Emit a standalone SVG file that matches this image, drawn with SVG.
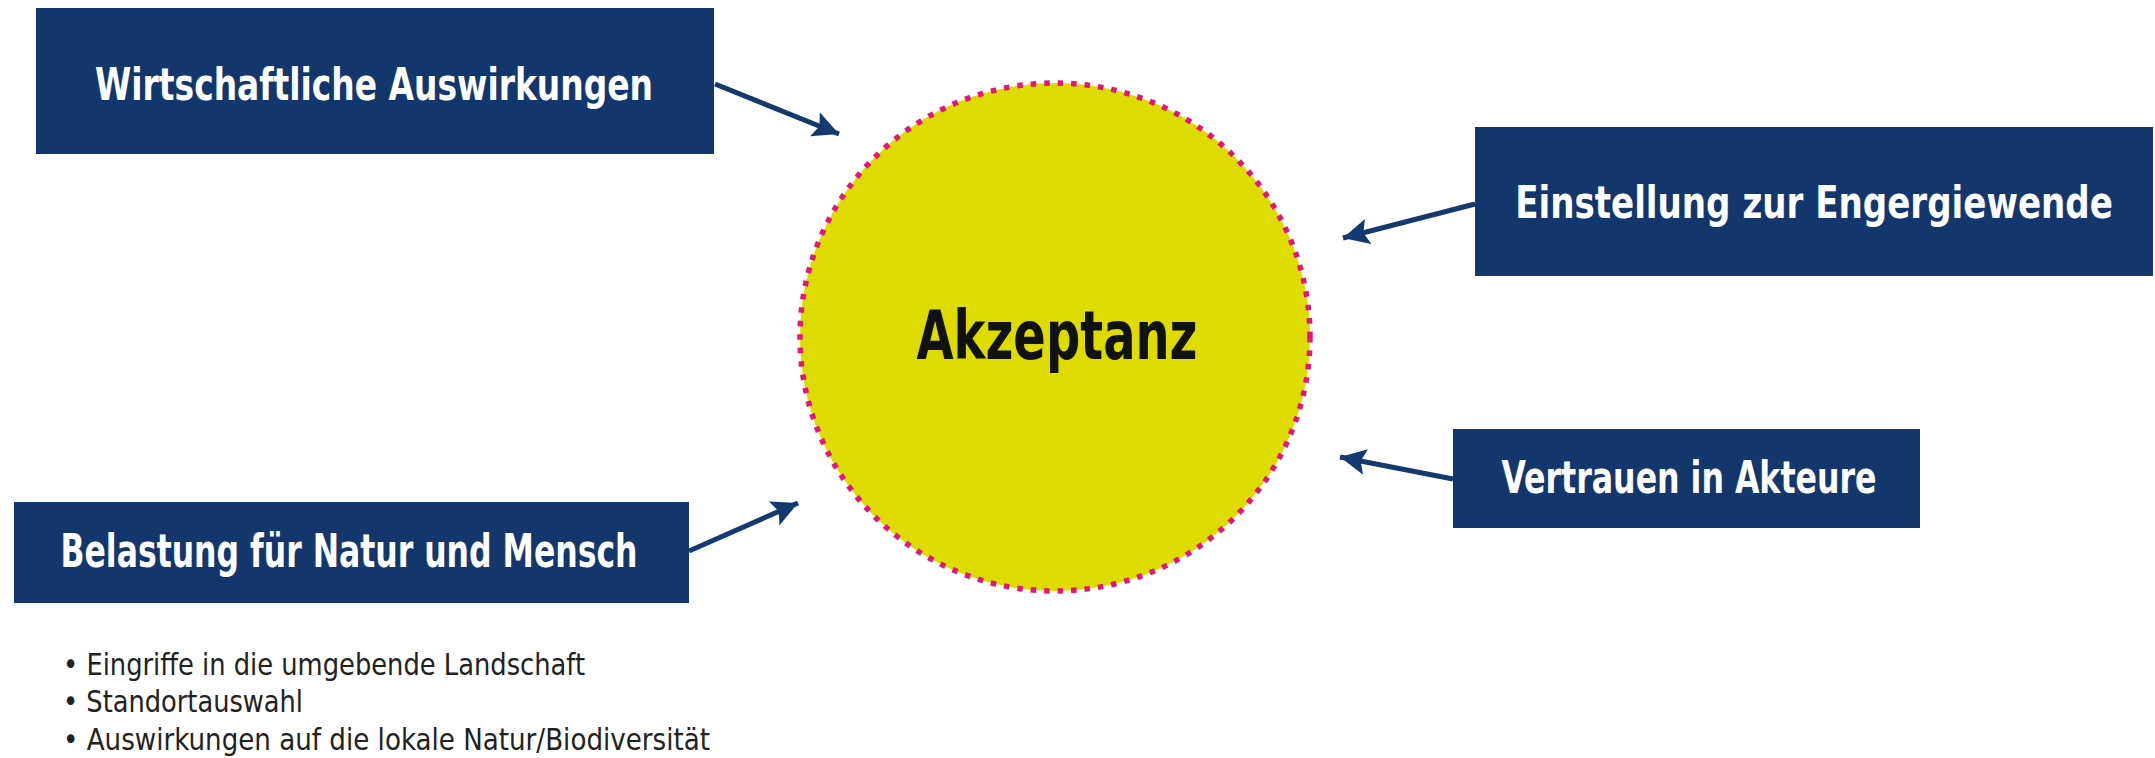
<svg xmlns="http://www.w3.org/2000/svg" width="2155" height="758" viewBox="0 0 2155 758">
<style>
.box{fill:#13376d;}
.lbl{font-family:"Liberation Sans Narrow","DejaVu Sans Condensed","Liberation Sans",sans-serif;font-weight:bold;font-size:45px;fill:#ffffff;text-anchor:middle;}
.main{font-family:"Liberation Sans Narrow","DejaVu Sans Condensed","Liberation Sans",sans-serif;font-weight:bold;font-size:68px;fill:#111111;text-anchor:middle;}
.bul{font-family:"Liberation Sans Narrow","DejaVu Sans Condensed","Liberation Sans",sans-serif;font-size:31px;fill:#222222;}
.conn{stroke:#14396f;stroke-width:5;fill:none;marker-end:url(#ah);}
</style>
<defs>
<marker id="ah" markerUnits="userSpaceOnUse" markerWidth="30" markerHeight="28" refX="26" refY="13" orient="auto">
<path d="M0,0 L26,13 L0,26 L5,13 z" fill="#14396f"/>
</marker>
</defs>
<rect width="2155" height="758" fill="#ffffff"/>
<g id="node-akzeptanz">
<ellipse cx="1055" cy="337" rx="255" ry="254" fill="#dedb00" stroke="#e5147d" stroke-width="5.5" stroke-dasharray="5.5 8"/>
<text class="main" x="1057" y="359" textLength="281" lengthAdjust="spacingAndGlyphs">Akzeptanz</text>
</g>
<g id="node-wirtschaft">
<rect class="box" x="36" y="8" width="678" height="146"/>
<text class="lbl" x="374" y="100" textLength="558" lengthAdjust="spacingAndGlyphs">Wirtschaftliche Auswirkungen</text>
</g>
<g id="node-einstellung">
<rect class="box" x="1475" y="127" width="678" height="149"/>
<text class="lbl" transform="translate(1814 218) scale(0.86 1)" x="0" y="0" textLength="695" lengthAdjust="spacingAndGlyphs">Einstellung zur Engergiewende</text>
</g>
<g id="node-vertrauen">
<rect class="box" x="1453" y="429" width="467" height="99"/>
<text class="lbl" x="1689" y="493" textLength="375" lengthAdjust="spacingAndGlyphs">Vertrauen in Akteure</text>
</g>
<g id="node-belastung">
<rect class="box" x="14" y="502" width="675" height="101"/>
<text class="lbl" x="349" y="567" textLength="577" lengthAdjust="spacingAndGlyphs" style="font-size:46px">Belastung für Natur und Mensch</text>
</g>
<g id="connectors">
<line class="conn" x1="715" y1="84" x2="839" y2="134"/>
<line class="conn" x1="1475" y1="204" x2="1343" y2="238"/>
<line class="conn" x1="1453" y1="479" x2="1340" y2="457"/>
<line class="conn" x1="689" y1="551" x2="798" y2="503"/>
</g>
<g id="notes">
<text class="bul" x="63" y="675" textLength="522" lengthAdjust="spacingAndGlyphs">• Eingriffe in die umgebende Landschaft</text>
<text class="bul" x="63" y="712" textLength="240" lengthAdjust="spacingAndGlyphs">• Standortauswahl</text>
<text class="bul" x="63" y="750" textLength="647" lengthAdjust="spacingAndGlyphs">• Auswirkungen auf die lokale Natur/Biodiversität</text>
</g>
</svg>
